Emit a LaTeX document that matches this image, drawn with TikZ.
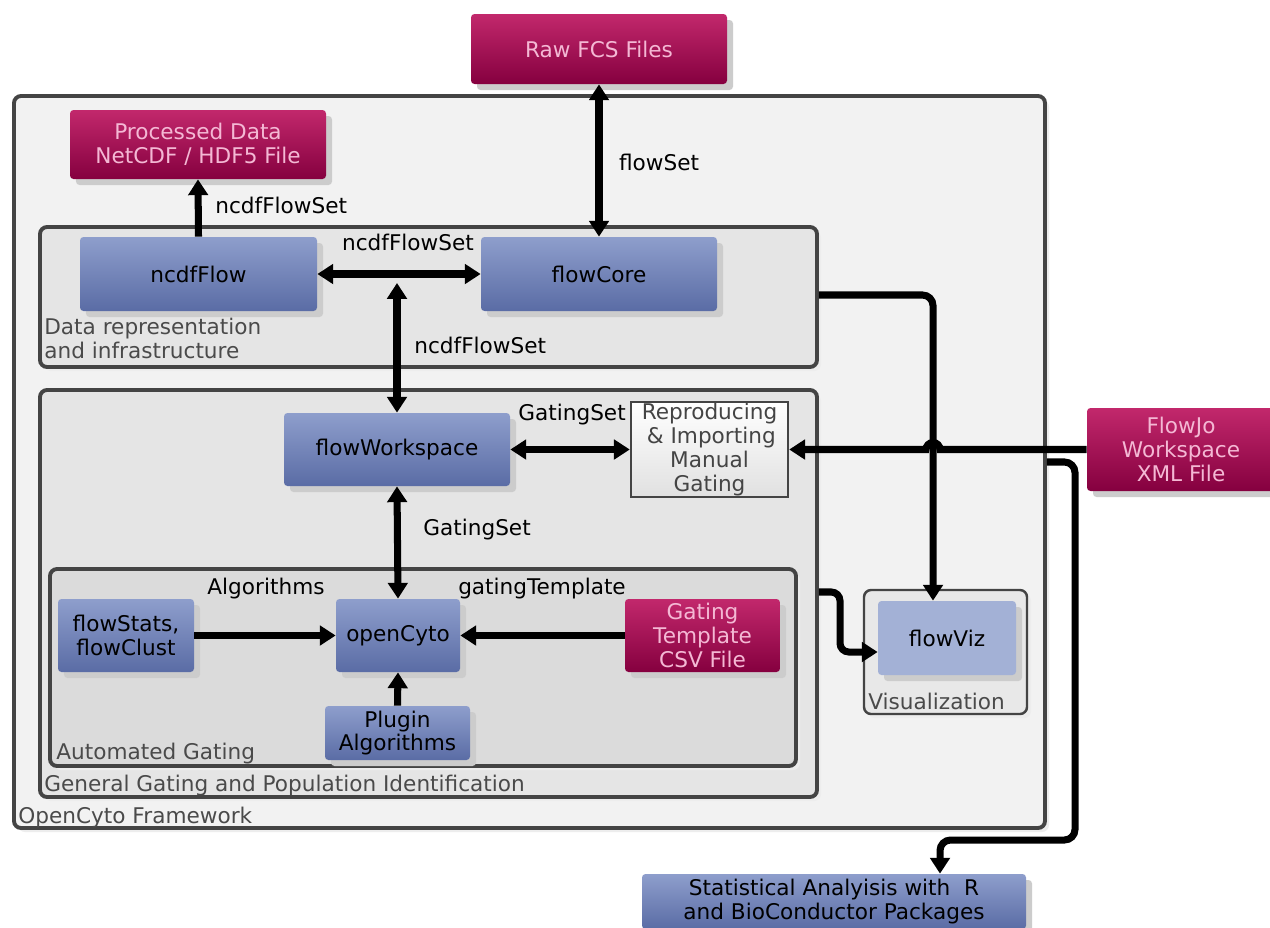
\documentclass[tikz,border=0pt]{standalone}
\usepackage{fontspec}
\setmainfont{DejaVu Sans}
\usetikzlibrary{arrows.meta,fit,shadows}

\definecolor{magtop}{HTML}{C2286C}
\definecolor{magbot}{HTML}{85003F}
\definecolor{bluetop}{HTML}{8E9ECC}
\definecolor{bluebot}{HTML}{5A6CA5}
\definecolor{vizblue}{HTML}{A3B1D6}
\definecolor{pinktext}{HTML}{F4B8D4}
\definecolor{framegray}{HTML}{444444}
\definecolor{labelgray}{HTML}{4A4A4A}

\tikzset{
	boxsize/.style 2 args={minimum width=#1*0.02cm, minimum height=#2*0.02cm},
	block/.style={rectangle, rounded corners=2pt, inner sep=0pt, align=center,
		drop shadow={shadow xshift=0.12cm, shadow yshift=-0.12cm, fill=black!20, opacity=1}},
	fileblock/.style={block, top color=magtop, bottom color=magbot, text=pinktext},
	pkgblock/.style={block, top color=bluetop, bottom color=bluebot, text=black},
	group/.style={rectangle, rounded corners=4pt, draw=framegray, line width=2.2pt, inner sep=0pt,
		drop shadow={shadow xshift=0.08cm, shadow yshift=-0.08cm, fill=black!7, opacity=1}},
	grouplabel/.style={inner sep=0pt, text=labelgray, align=left},
	edgelabel/.style={inner sep=0pt},
	flow/.style={line width=4pt, -{Triangle[length=9pt,width=11pt]}},
	biflow/.style={line width=4pt, {Triangle[length=9pt,width=11pt]}-{Triangle[length=9pt,width=11pt]}},
}

\begin{document}
\begin{tikzpicture}[x=0.02cm, y=-0.02cm, every node/.style={font=\fontsize{12.3}{13.6}\selectfont}]
		%%%%% START %%%%%
		\useasboundingbox (0,0) rectangle (1270,927);
		\clip (0,0) rectangle (1270,927);
		\fill[white] (0,0) rectangle (1270,927);
		
		% groups
		\node[group, fill=black!5, fit={(14,96) (1045,828)}] (framework) {};
		\node[group, fill=black!10, fit={(40,227) (817,367)}] (datarep) {};
		\node[group, fill=black!10, fit={(40,390) (817,797)}] (gengating) {};
		\node[group, fill=black!14, fit={(50,569) (796,766)}] (autogating) {};
		\node[group, line width=1.4pt, fill=black!9, fit={(864,590) (1027,714)}] (vis) {};
		
		\node[grouplabel, anchor=base west] (frameworklabel) at (18,823) {OpenCyto Framework};
		\node[grouplabel, anchor=north west] (datareplabel) at (44,318) {Data representation\\and infrastructure};
		\node[grouplabel, anchor=base west] (gengatinglabel) at (44,791) {General Gating and Population Identification};
		\node[grouplabel, anchor=base west] (autogatinglabel) at (56,759) {Automated Gating};
		\node[grouplabel, anchor=base west] (vislabel) at (868,709) {Visualization};
		
		% files
		\node[fileblock, boxsize={256}{70}] (rawfcs) at (599,49) {Raw FCS Files};
		\node[fileblock, boxsize={256}{69}] (processed) at (198,144.5) {Processed Data\\NetCDF / HDF5 File};
		\node[fileblock, boxsize={188}{83}] (flowjo) at (1181,449.5) {FlowJo\\Workspace\\XML File};
		\node[fileblock, boxsize={155}{73}] (gtemplate) at (702.5,635.5) {Gating\\Template\\CSV File};
		
		% packages
		\node[pkgblock, boxsize={237}{74}] (ncdfflow) at (198.5,274) {ncdfFlow};
		\node[pkgblock, boxsize={236}{74}] (flowcore) at (599,274) {flowCore};
		\node[pkgblock, boxsize={226}{73}] (flowws) at (397,449.5) {flowWorkspace};
		\node[pkgblock, boxsize={136}{73}] (flowstats) at (126,635.5) {flowStats,\\flowClust};
		\node[pkgblock, boxsize={124}{73}] (opencyto) at (398,635.5) {openCyto};
		\node[pkgblock, boxsize={145}{54}] (plugin) at (397.5,733) {Plugin\\Algorithms};
		\node[block, fill=vizblue, boxsize={138}{74}] (flowviz) at (947,638) {flowViz};
		\node[pkgblock, boxsize={384}{55}] (stats) at (834,901.5) {Statistical Analyisis with\ \ R\\and BioConductor Packages};
		
		\node[rectangle, draw=framegray, line width=1.4pt, top color=white, bottom color=black!12,
			text=framegray, align=center, inner sep=0pt, boxsize={157}{95}] (reproduce) at (709.5,449.5)
			{Reproducing\\\,\& Importing\\Manual\\Gating};
		
		% connectors
		\coordinate (ncdfjoin) at (398,283);
		\coordinate (vizbend) at (933,295);
		\coordinate (visbend) at (840,592);
		\coordinate (visin) at (872,652);
		\coordinate (statsbend1) at (1075,462);
		\coordinate (statsbend2) at (1075,840);
		\coordinate (statsbend3) at (940,840);
		
		\draw[biflow] (rawfcs.south) -- (flowcore.north);
		\draw[flow] (ncdfflow.north) -- (processed.south);
		\draw[biflow] (ncdfflow.east) -- (flowcore.west);
		\draw[biflow] (flowws.north |- ncdfjoin) -- (flowws.north);
		\draw[biflow] (flowws.east) -- (reproduce.west);
		\draw[biflow] (flowws.south) -- (opencyto.north);
		\draw[flow] (flowstats.east) -- (opencyto.west);
		\draw[flow] (gtemplate.west) -- (opencyto.east);
		\draw[flow] (plugin.north) -- (opencyto.south);
		
		\draw[flow, rounded corners=6pt] (datarep.east |- vizbend) -- (vizbend) -- (vizbend |- flowviz.north);
		\draw[flow] (flowjo.west) -- (940,449.5) arc[start angle=0, end angle=-180, radius=7] -- (reproduce.east);
		\draw[flow, rounded corners=5pt] (gengating.east |- visbend) -- (visbend) -- (visbend |- visin) -- (visin -| flowviz.west);
		\draw[flow, rounded corners=6pt] (framework.east |- statsbend1) -- (statsbend1) -- (statsbend2) -- (statsbend3) -- (statsbend3 |- stats.north);
		
		% connector labels
		\node[edgelabel] (flowsetlabel) at (659,162) {flowSet};
		\node[edgelabel, anchor=west] (ncdfuplabel) at (215,205) {ncdfFlowSet};
		\node[edgelabel] (ncdfmidlabel) at (408,242) {ncdfFlowSet};
		\node[edgelabel, anchor=west] (ncdfdownlabel) at (414,345) {ncdfFlowSet};
		\node[edgelabel, anchor=west] (gsrightlabel) at (518,415) {GatingSet};
		\node[edgelabel, anchor=west] (gsdownlabel) at (423,530) {GatingSet};
		\node[edgelabel] (algolabel) at (266,589) {Algorithms};
		\node[edgelabel] (templatelabel) at (542,589) {gatingTemplate};
		
		%%%%% END %%%%%
\end{tikzpicture}
\end{document}
